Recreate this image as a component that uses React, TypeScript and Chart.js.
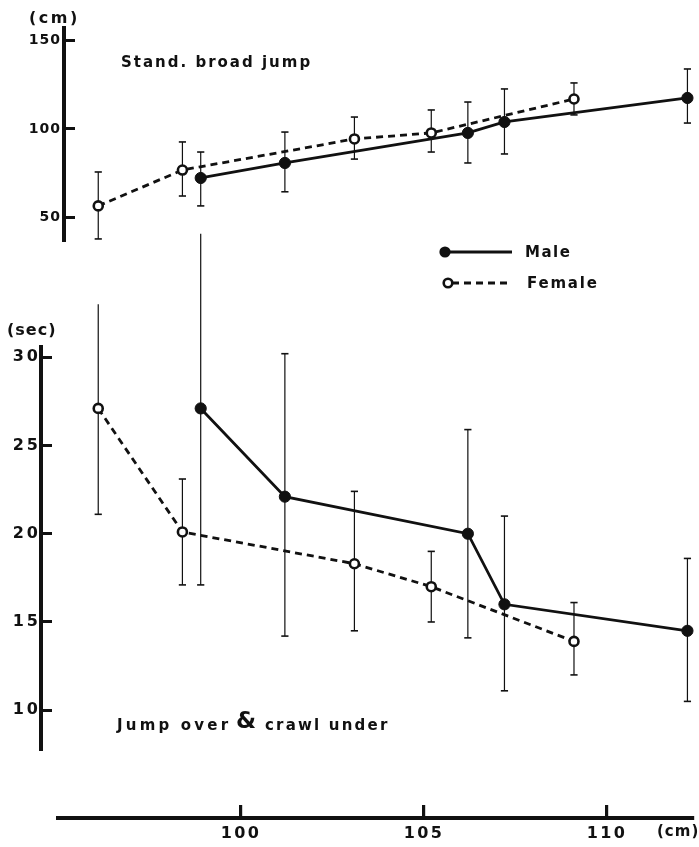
import React, { useEffect, useRef } from 'react';
import { Chart, registerables } from 'chart.js';

Chart.register(...registerables);

// ---- data ----
const heightTicks = [100, 105, 110];
const jumpTicks = [50, 100, 150];
const crawlTicks = [10, 15, 20, 25, 30];

const femaleHeight = [96.1, 98.4, 103.1, 105.2, 109.1];
const maleHeight = [98.9, 101.2, 106.2, 107.2, 112.2];

const femaleJump = [56.4, 76.7, 94.3, 97.7, 116.9];
const femaleJumpLow = [37.7, 62.0, 82.9, 86.9, 107.9];
const femaleJumpHigh = [75.6, 92.6, 106.7, 110.7, 126.0];
const maleJump = [72.2, 80.7, 97.7, 103.9, 117.5];
const maleJumpLow = [56.4, 64.4, 80.7, 85.8, 103.3];
const maleJumpHigh = [86.9, 98.2, 115.2, 122.6, 133.9];

const femaleCrawl = [27.1, 20.1, 18.3, 17.0, 13.9];
const femaleCrawlLow = [21.1, 17.1, 14.5, 15.0, 12.0];
const femaleCrawlHigh = [33.0, 23.1, 22.4, 19.0, 16.1];
const maleCrawl = [27.1, 22.1, 20.0, 16.0, 14.5];
const maleCrawlLow = [17.1, 14.2, 14.1, 11.1, 10.5];
const maleCrawlHigh = [37.0, 30.2, 25.9, 21.0, 18.6];

const FONT = "'DejaVu Sans', sans-serif";
const INK = '#111';

function pts(xs: number[], ys: number[]) {
  return xs.map((x, i) => ({ x, y: ys[i] }));
}

function errPts(xs: number[], lows: number[], highs: number[]) {
  const out: any[] = [];
  xs.forEach((x, i) => {
    out.push({ x, y: lows[i] }, { x, y: highs[i] }, { x, y: null });
  });
  return out;
}

function datasets(mx: number[], my: number[], fx: number[], fy: number[], err: any[]) {
  return [
    {
      data: pts(fx, fy),
      borderColor: INK,
      borderWidth: 2.8,
      borderDash: [7, 5],
      pointRadius: 4.5,
      pointBackgroundColor: '#fff',
      pointBorderColor: INK,
      pointBorderWidth: 2.6,
      tension: 0,
      fill: false,
      clip: false,
    },
    {
      data: pts(mx, my),
      borderColor: INK,
      borderWidth: 2.8,
      pointRadius: 5.6,
      pointBackgroundColor: INK,
      pointBorderColor: INK,
      pointBorderWidth: 1,
      tension: 0,
      fill: false,
      clip: false,
    },
    {
      data: err,
      borderColor: INK,
      borderWidth: 1.2,
      pointStyle: 'line',
      pointRadius: 3.6,
      pointBorderColor: INK,
      pointBorderWidth: 1.6,
      spanGaps: false,
      tension: 0,
      fill: false,
      clip: false,
    },
  ];
}

function spacing(px: string) {
  return {
    id: 'spacing',
    beforeInit(chart: any) {
      chart.ctx.letterSpacing = px;
    },
    beforeLayout(chart: any) {
      chart.ctx.letterSpacing = px;
    },
    beforeDraw(chart: any) {
      chart.ctx.letterSpacing = px;
    },
  };
}

function textPlugin(id: string, draw: (ctx: CanvasRenderingContext2D) => void) {
  return {
    id,
    afterDraw(chart: any) {
      const ctx = chart.ctx as CanvasRenderingContext2D;
      ctx.save();
      ctx.fillStyle = INK;
      ctx.strokeStyle = INK;
      draw(ctx);
      ctx.restore();
    },
  };
}

function yScale(min: number, max: number, ticks: number[], width: number, size: number, pad: number) {
  return {
    type: 'linear',
    min,
    max,
    afterBuildTicks: (s: any) => {
      s.ticks = ticks.map((v) => ({ value: v }));
    },
    afterFit: (s: any) => {
      s.width = width;
    },
    grid: { drawOnChartArea: false, tickLength: -11, lineWidth: 3, color: INK },
    border: { color: INK, width: 4 },
    ticks: {
      color: INK,
      padding: pad,
      font: { family: FONT, weight: 'bold', size },
    },
  };
}

export default function App() {
  const topRef = useRef<HTMLCanvasElement>(null);
  const botRef = useRef<HTMLCanvasElement>(null);
  const axRef = useRef<HTMLCanvasElement>(null);

  useEffect(() => {
    const topLabels = textPlugin('topText', (ctx) => {
      const c = ctx as any;
      ctx.textBaseline = 'middle';
      ctx.textAlign = 'left';
      ctx.font = `bold 16px ${FONT}`;
      c.letterSpacing = '2.5px';
      ctx.fillText('(cm)', 29, 19);
      ctx.font = `bold 15px ${FONT}`;
      c.letterSpacing = '2px';
      ctx.fillText('Stand. broad jump', 121, 63);
      // legend
      ctx.lineWidth = 2.8;
      ctx.beginPath();
      ctx.moveTo(445, 252);
      ctx.lineTo(512, 252);
      ctx.stroke();
      ctx.beginPath();
      ctx.arc(445, 252, 5.6, 0, Math.PI * 2);
      ctx.fill();
      c.letterSpacing = '1.5px';
      ctx.fillText('Male', 525, 253);
      ctx.setLineDash([7, 5]);
      ctx.beginPath();
      ctx.moveTo(452, 283);
      ctx.lineTo(512, 283);
      ctx.stroke();
      ctx.setLineDash([]);
      ctx.lineWidth = 2.6;
      ctx.beginPath();
      ctx.arc(448, 283, 4.3, 0, Math.PI * 2);
      ctx.fillStyle = '#fff';
      ctx.fill();
      ctx.stroke();
      ctx.fillStyle = INK;
      c.letterSpacing = '1.8px';
      ctx.fillText('Female', 527, 284);
    });

    const botLabels = textPlugin('botText', (ctx) => {
      const c = ctx as any;
      ctx.textBaseline = 'middle';
      ctx.textAlign = 'left';
      ctx.font = `bold 16px ${FONT}`;
      c.letterSpacing = '1px';
      ctx.fillText('(sec)', 7, 131);
      ctx.font = `bold 15px ${FONT}`;
      c.letterSpacing = '3.2px';
      ctx.fillText('Jump over', 117, 526);
      ctx.font = `bold 23px ${FONT}`;
      c.letterSpacing = '0px';
      ctx.fillText('&', 236, 522);
      ctx.font = `bold 15px ${FONT}`;
      c.letterSpacing = '2.2px';
      ctx.fillText('crawl under', 265, 526);
    });

    const axLabels = textPlugin('axText', (ctx) => {
      const c = ctx as any;
      ctx.textBaseline = 'middle';
      ctx.textAlign = 'left';
      ctx.font = `bold 15px ${FONT}`;
      c.letterSpacing = '1px';
      ctx.fillText('(cm)', 657, 52);
    });

    const common = {
      animation: false,
      responsive: false,
      events: [],
      plugins: { legend: { display: false }, tooltip: { enabled: false } },
    };

    const top = new Chart(topRef.current as HTMLCanvasElement, {
      type: 'line',
      data: {
        datasets: datasets(
          maleHeight,
          maleJump,
          femaleHeight,
          femaleJump,
          errPts(femaleHeight, femaleJumpLow, femaleJumpHigh).concat(
            errPts(maleHeight, maleJumpLow, maleJumpHigh)
          )
        ) as any,
      },
      options: {
        ...common,
        layout: { padding: { top: 28, bottom: 80, left: 0, right: 7 } },
        scales: {
          x: { type: 'linear', display: false, min: 95.164, max: 112.322 },
          y: yScale(37.1, 157.1, jumpTicks, 64, 14, 14) as any,
        },
      } as any,
      plugins: [spacing('1px'), topLabels],
    });

    const bottom = new Chart(botRef.current as HTMLCanvasElement, {
      type: 'line',
      data: {
        datasets: datasets(
          maleHeight,
          maleCrawl,
          femaleHeight,
          femaleCrawl,
          errPts(femaleHeight, femaleCrawlLow, femaleCrawlHigh).concat(
            errPts(maleHeight, maleCrawlLow, maleCrawlHigh)
          )
        ) as any,
      },
      options: {
        ...common,
        layout: { padding: { top: 147, bottom: 20, left: 0, right: 7 } },
        scales: {
          x: { type: 'linear', display: false, min: 94.536, max: 112.322 },
          y: yScale(7.78, 30.58, crawlTicks, 41, 16, 11) as any,
        },
      } as any,
      plugins: [spacing('3px'), botLabels],
    });

    const axis = new Chart(axRef.current as HTMLCanvasElement, {
      type: 'line',
      data: { datasets: [] },
      options: {
        ...common,
        layout: { padding: { top: 0, bottom: 0, left: 58, right: 6 } },
        scales: {
          y: { display: false, min: 0, max: 1 },
          x: {
            type: 'linear',
            min: 95.0,
            max: 112.35,
            afterBuildTicks: (s: any) => {
              s.ticks = heightTicks.map((v) => ({ value: v }));
            },
            afterFit: (s: any) => {
              s.height = 29;
            },
            grid: { drawOnChartArea: false, tickLength: -13, lineWidth: 3.2, color: INK },
            border: { color: INK, width: 4 },
            ticks: {
              color: INK,
              padding: 19,
              maxRotation: 0,
              font: { family: FONT, weight: 'bold', size: 16 },
            },
          },
        },
      } as any,
      plugins: [spacing('2.3px'), axLabels],
    });

    return () => {
      top.destroy();
      bottom.destroy();
      axis.destroy();
    };
  }, []);

  return (
    <div
      style={{
        position: 'absolute',
        left: 0,
        top: 0,
        width: 699,
        height: 847,
        background: '#fff',
        overflow: 'hidden',
      }}
    >
      <canvas ref={topRef} width={699} height={320} style={{ position: 'absolute', left: 0, top: 0 }} />
      <canvas ref={botRef} width={699} height={570} style={{ position: 'absolute', left: 0, top: 200 }} />
      <canvas ref={axRef} width={699} height={67} style={{ position: 'absolute', left: 0, top: 780 }} />
    </div>
  );
}
